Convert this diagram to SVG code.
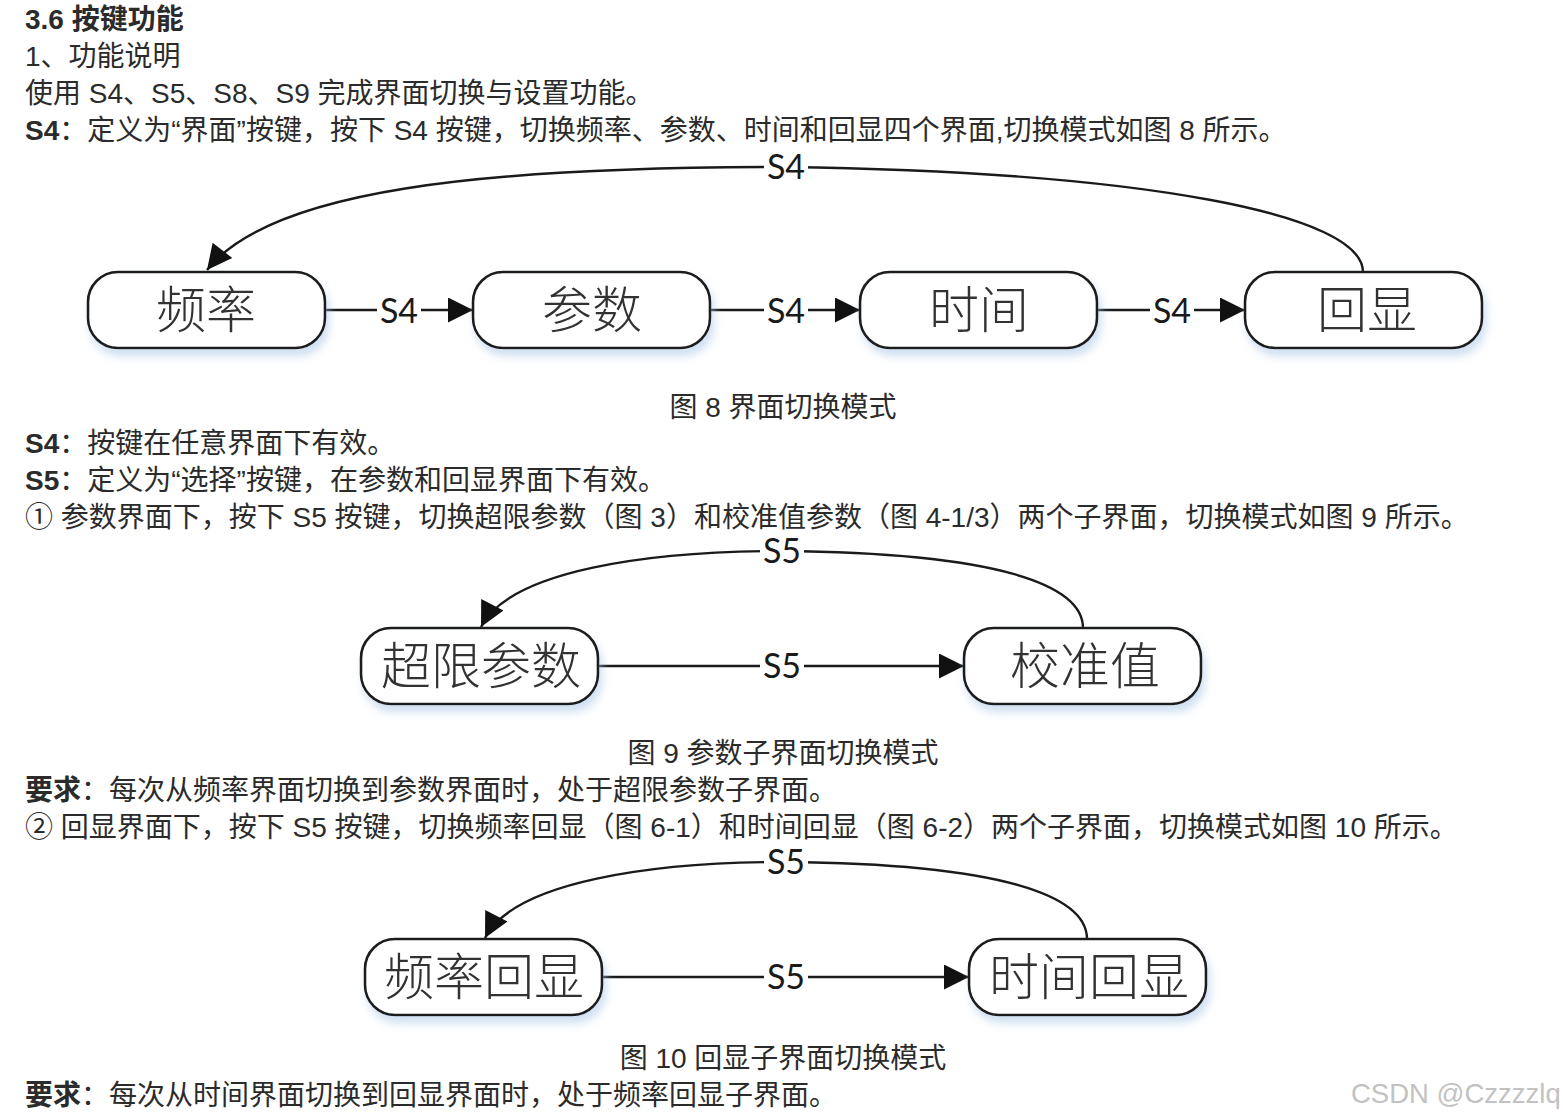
<svg xmlns="http://www.w3.org/2000/svg" width="1563" height="1120" viewBox="0 0 1563 1120">
<defs>
<style>
.t{font-family:"Liberation Sans","Noto Sans CJK SC",sans-serif;font-size:28px;fill:#2b2b2b}
.b{font-weight:bold}
.cap{text-anchor:middle}
.node rect{fill:#fff;stroke:#1e1e1e;stroke-width:2.6}
.node text{font-family:"Noto Sans CJK SC",sans-serif;font-weight:300;font-size:50px;fill:#333;text-anchor:middle}
.edge{fill:none;stroke:#1a1a1a;stroke-width:2.4}
.lbl{font-family:Lato,"Open Sans",sans-serif;font-size:34px;fill:#1a1a1a;text-anchor:middle}
.lbg{fill:#fff}
.wm{font-family:"Liberation Sans",sans-serif;font-size:27.5px;fill:#c2c2c2}
</style>
<filter id="sh" x="-10%" y="-20%" width="125%" height="160%">
<feGaussianBlur in="SourceAlpha" stdDeviation="4"/>
<feOffset dx="3" dy="7" result="o"/>
<feFlood flood-color="#a9c6e6" flood-opacity="0.55"/>
<feComposite in2="o" operator="in"/>
<feMerge><feMergeNode/><feMergeNode in="SourceGraphic"/></feMerge>
</filter>
<marker id="ar" viewBox="0 0 10 10" refX="10" refY="5" markerWidth="27" markerHeight="25" markerUnits="userSpaceOnUse" orient="auto">
<path d="M0,0 L10,5 L0,10 z" fill="#111"/>
</marker>
</defs>
<rect width="1563" height="1120" fill="#fff"/>

<g id="text">
<text class="t b" x="25" y="29">3.6 按键功能</text>
<text class="t" x="25" y="66">1、功能说明</text>
<text class="t" x="25" y="103">使用 S4、S5、S8、S9 完成界面切换与设置功能。</text>
<text class="t" x="25" y="140"><tspan class="b">S4</tspan>：定义为“界面”按键，按下 S4 按键，切换频率、参数、时间和回显四个界面,切换模式如图 8 所示。</text>
<text class="t cap" x="783" y="417">图 8 界面切换模式</text>
<text class="t" x="25" y="453"><tspan class="b">S4</tspan>：按键在任意界面下有效。</text>
<text class="t" x="25" y="490"><tspan class="b">S5</tspan>：定义为“选择”按键，在参数和回显界面下有效。</text>
<text class="t" x="25" y="527">① 参数界面下，按下 S5 按键，切换超限参数（图 3）和校准值参数（图 4-1/3）两个子界面，切换模式如图 9 所示。</text>
<text class="t cap" x="783" y="763">图 9 参数子界面切换模式</text>
<text class="t" x="25" y="800"><tspan class="b">要求</tspan>：每次从频率界面切换到参数界面时，处于超限参数子界面。</text>
<text class="t" x="25" y="837">② 回显界面下，按下 S5 按键，切换频率回显（图 6-1）和时间回显（图 6-2）两个子界面，切换模式如图 10 所示。</text>
<text class="t cap" x="783" y="1068">图 10 回显子界面切换模式</text>
<text class="t" x="25" y="1105"><tspan class="b">要求</tspan>：每次从时间界面切换到回显界面时，处于频率回显子界面。</text>
<text class="wm" x="1351" y="1103">CSDN @Czzzzlq</text>
</g>

<g id="connectors">
<path class="edge" d="M325,310 H473" marker-end="url(#ar)"/>
<path class="edge" d="M710,310 H860" marker-end="url(#ar)"/>
<path class="edge" d="M1097,310 H1245" marker-end="url(#ar)"/>
<path class="edge" d="M1363,272 C1363,215 1150,172 785,167 C480,167 270,190 207,270" marker-end="url(#ar)"/>
<path class="edge" d="M598,666 H964" marker-end="url(#ar)"/>
<path class="edge" d="M1083,628 C1083,585 1000,553 782,551 C650,551 510,570 481,627" marker-end="url(#ar)"/>
<path class="edge" d="M602,977 H969" marker-end="url(#ar)"/>
<path class="edge" d="M1087,939 C1087,896 1004,864 786,862 C654,862 514,881 485,938" marker-end="url(#ar)"/>
<g id="labels">
<rect class="lbg" x="377" y="296" width="44" height="32"/><text class="lbl" x="399" y="323">S4</text>
<rect class="lbg" x="764" y="296" width="44" height="32"/><text class="lbl" x="786" y="323">S4</text>
<rect class="lbg" x="1150" y="296" width="44" height="32"/><text class="lbl" x="1172" y="323">S4</text>
<rect class="lbg" x="764" y="152" width="44" height="32"/><text class="lbl" x="786" y="179">S4</text>
<rect class="lbg" x="760" y="651" width="44" height="32"/><text class="lbl" x="782" y="678">S5</text>
<rect class="lbg" x="760" y="536" width="44" height="32"/><text class="lbl" x="782" y="563">S5</text>
<rect class="lbg" x="764" y="962" width="44" height="32"/><text class="lbl" x="786" y="989">S5</text>
<rect class="lbg" x="764" y="847" width="44" height="32"/><text class="lbl" x="786" y="874">S5</text>
</g>
</g>

<g id="n-pinlv" class="node" filter="url(#sh)"><rect x="88" y="272" width="237" height="76" rx="30"/><text x="206" y="328">频率</text></g>
<g id="n-canshu" class="node" filter="url(#sh)"><rect x="473" y="272" width="237" height="76" rx="30"/><text x="592" y="328">参数</text></g>
<g id="n-shijian" class="node" filter="url(#sh)"><rect x="860" y="272" width="237" height="76" rx="30"/><text x="979" y="328">时间</text></g>
<g id="n-huixian" class="node" filter="url(#sh)"><rect x="1245" y="272" width="237" height="76" rx="30"/><text x="1367" y="328">回显</text></g>
<g id="n-chaoxian" class="node" filter="url(#sh)"><rect x="361" y="628" width="237" height="76" rx="30"/><text x="481" y="684">超限参数</text></g>
<g id="n-jiaozhun" class="node" filter="url(#sh)"><rect x="964" y="628" width="237" height="76" rx="30"/><text x="1085" y="684">校准值</text></g>
<g id="n-pinlvhx" class="node" filter="url(#sh)"><rect x="365" y="939" width="237" height="76" rx="30"/><text x="484" y="995">频率回显</text></g>
<g id="n-shijianhx" class="node" filter="url(#sh)"><rect x="969" y="939" width="237" height="76" rx="30"/><text x="1089" y="995">时间回显</text></g>
</svg>
